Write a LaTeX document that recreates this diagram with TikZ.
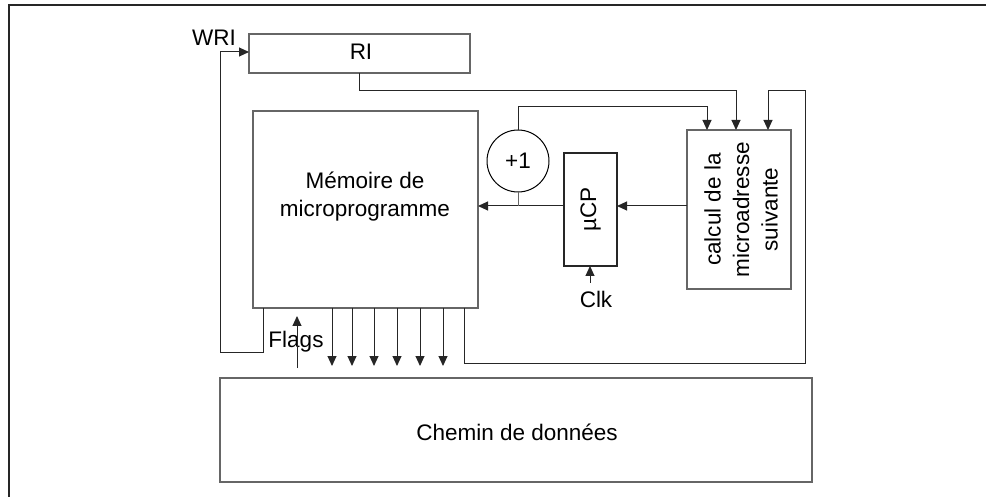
\documentclass[tikz,border=0pt]{standalone}
\usepackage{fontspec}
\setmainfont{Liberation Sans}
\usetikzlibrary{arrows.meta,calc}
\begin{document}
\begin{tikzpicture}[x=1pt,y=-1pt,
  box/.style={draw=black!60,line width=1.3pt,inner sep=0pt,outer sep=0pt},
  wire/.style={draw=black!60,line width=1pt},
  arr/.style={draw=black!85,line width=1pt,-{Triangle[length=10pt,width=9pt]}},
  lbl/.style={font=\fontsize{22.5}{28}\selectfont,inner sep=0pt,align=center}]
\useasboundingbox (0,0) rectangle (986,497);
% outer frame (top and left only)
\draw[black!85,line width=1.5pt] (9,497) -- (9,5) -- (986,5);
% boxes
\node[box,minimum width=221pt,minimum height=39pt] (ri) at (359.5,53.5) {};
\node[lbl] (ritxt) at (361,52) {RI};
\node[box,minimum width=225pt,minimum height=197pt] (mem) at (365.5,209.5) {};
\node[lbl] (memtxt) at (365,197) {Mémoire de\\microprogramme};
\node[draw=black,line width=1pt,circle,minimum size=62pt,inner sep=0pt,outer sep=0pt] (inc) at (518,161) {};
\node[lbl] (inctxt) at (518,161) {+1};
\node[draw=black!85,line width=1.2pt,inner sep=0pt,outer sep=0pt,minimum width=53pt,minimum height=113pt] (mucp) at (590.5,209.5) {};
\node[lbl,rotate=90] (mucptxt) at (590.5,209.5) {µCP};
\node[box,minimum width=104pt,minimum height=159pt] (calc) at (739,209.5) {};
\node[lbl,rotate=90,font=\fontsize{22.5}{28.5}\selectfont] (calctxt) at (741,209.5) {calcul de la\\microadresse\\suivante};
\node[box,minimum width=592pt,minimum height=104pt] (data) at (516,430) {};
\node[lbl] (datatxt) at (517,432) {Chemin de données};
% labels
\node[lbl] (wri) at (214,38) {WRI};
\node[lbl,anchor=base] (flags) at (296,347) {Flags};
\node[lbl,anchor=base] (clk) at (596,308) {Clk};
% coordinates
\coordinate (memW) at (263,308);
\coordinate (memF) at (464,308);
\coordinate (flagS) at (297,368);
\coordinate (flagE) at (297,316);
\coordinate (clkS) at (590,283);
% connectors
\draw[arr] (ri.south) |- (736,91) -- (736,0 |- calc.north);
\draw[arr] (inc.north) |- (707,107) -- (707,0 |- calc.north);
\draw[arr] (memF) |- (805,363) |- (768,91) -- (768,0 |- calc.north);
\draw[arr] (calc.west |- 0,206) -- (mucp.east |- 0,206);
\draw[arr] (mucp.west |- 0,206) -- (mem.east |- 0,206);
\draw[wire] (inc.south) -- (518,206);
\draw[arr] (clkS) -- (590,0 |- mucp.south);
\draw[arr] (memW) |- (220,352) |- (ri.west |- 0,52);
\draw[arr] (flagS) -- (flagE);
\foreach \xx in {332,352,374,397,420,443}{
  \draw[arr] (\xx,308) -- (\xx,366);
}
\end{tikzpicture}
\end{document}
